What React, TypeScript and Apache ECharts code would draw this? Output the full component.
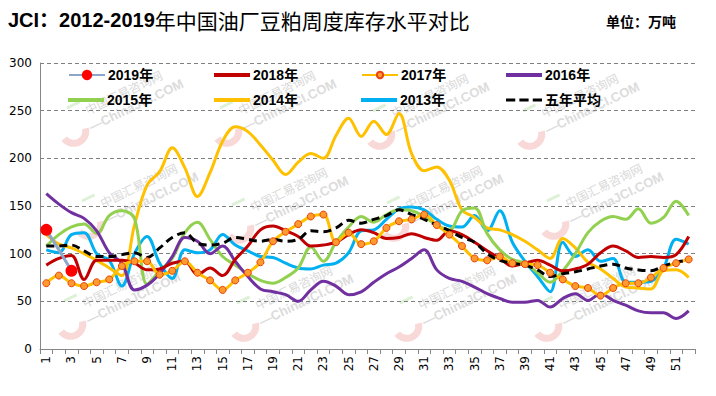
import React, { useEffect, useRef } from "react";
import * as echarts from "echarts";

const weeks = ["1","2","3","4","5","6","7","8","9","10","11","12","13","14","15","16","17","18","19","20","21","22","23","24","25","26","27","28","29","30","31","32","33","34","35","36","37","38","39","40","41","42","43","44","45","46","47","48","49","50","51","52"];

const y2019 = [125, 104, 82];
const y2018 = [88, 95, 98, 73, 93, 93, 93, 90, 83, 84, 90, 92, 78, 85, 77, 94, 108, 125, 129, 124, 118, 108, 109, 112, 120, 125, 122, 116, 117, 121, 117, 114, 124, 120, 112, 103, 95, 87, 90, 93, 88, 82, 84, 89, 101, 108, 103, 96, 97, 96, 99, 118];
const y2017 = [69, 77, 69, 66, 70, 73, 87, 92, 92, 78, 82, 92, 80, 72, 62, 72, 80, 91, 113, 123, 131, 139, 141, 112, 122, 110, 113, 127, 134, 136, 141, 130, 120, 108, 95, 93, 97, 90, 89, 88, 80, 73, 66, 64, 56, 64, 69, 69, 75, 85, 90, 94];
const y2016 = [163, 152, 143, 137, 124, 101, 90, 62, 67, 79, 97, 117, 113, 100, 108, 92, 76, 63, 60, 57, 50, 62, 71, 66, 57, 60, 70, 79, 86, 95, 104, 83, 74, 71, 65, 58, 53, 49, 49, 51, 44, 53, 58, 51, 58, 51, 46, 40, 38, 38, 32, 40];
const y2015 = [108, 120, 128, 131, 121, 140, 145, 137, 68, 82, 95, 122, 133, 115, 97, 88, 79, 72, 69, 75, 85, 107, 92, 112, 128, 139, 133, 141, 146, 145, 139, 130, 125, 145, 148, 121, 104, 94, 90, 80, 70, 82, 100, 122, 134, 139, 136, 147, 132, 138, 155, 140];
const y2014 = [120, 110, 106, 100, 93, 85, 77, 130, 172, 186, 211, 190, 160, 185, 218, 233, 228, 214, 198, 183, 196, 205, 200, 224, 242, 223, 239, 225, 247, 205, 187, 191, 177, 146, 138, 127, 125, 120, 113, 104, 95, 116, 106, 91, 84, 74, 65, 64, 63, 82, 83, 75];
const y2013 = [104, 101, 120, 122, 100, 93, 66, 100, 118, 90, 74, 104, 101, 104, 120, 109, 103, 97, 96, 90, 85, 84, 88, 90, 101, 124, 125, 136, 147, 149, 146, 136, 129, 128, 140, 124, 145, 112, 92, 76, 60, 112, 97, 104, 92, 95, 70, 70, 71, 85, 115, 110];
const yAvg = [108, 108, 109, 103, 97, 97, 99, 101, 96, 106, 117, 122, 111, 109, 111, 117, 115, 113, 115, 113, 115, 124, 123, 127, 135, 132, 136, 140, 146, 141, 136, 130, 124, 117, 112, 100, 93, 90, 88, 83, 76, 79, 81, 84, 87, 89, 85, 83, 82, 87, 91, 93];

const legendNames = ["2019年", "2018年", "2017年", "2016年", "2015年", "2014年", "2013年", "五年平均"];
const yMin = 0;
const yMax = 300;
const yStep = 50;

export default function App() {
  const ref = useRef<HTMLDivElement>(null);
  useEffect(() => {
    const chart = echarts.init(ref.current as HTMLDivElement, null, { renderer: "svg" });
    const cjk = '"Noto Sans CJK SC", sans-serif';
    const latin = '"Liberation Sans", "Noto Sans CJK SC", sans-serif';
    const axisFont = '"DejaVu Sans", sans-serif';

    const line = (name: string, data: any[], color: string, extra: any = {}) => ({
      name,
      type: "line",
      data,
      smooth: 0.35,
      symbol: "none",
      lineStyle: { color, width: 3 },
      itemStyle: { color },
      emphasis: { disabled: true },
      ...extra,
    });

    const series = [
      line("2013年", y2013, "#00B0F0"),
      line("2014年", y2014, "#FFC000"),
      line("2015年", y2015, "#92D050"),
      line("2016年", y2016, "#7030A0"),
      line("2018年", y2018, "#C00000"),
      line("2017年", y2017, "#FFC000", {
        symbol: "circle",
        symbolSize: 7,
        showSymbol: true,
        itemStyle: { color: "#FF9A2E", borderColor: "#E8430C", borderWidth: 1 },
      }),
      line("五年平均", yAvg, "#000000", {
        lineStyle: { color: "#000000", width: 3, type: [8, 5] },
      }),
      {
        name: "2019年",
        type: "line",
        data: y2019.map((v, i) => (i === 1 ? { value: v, symbol: "none" } : v)),
        smooth: false,
        symbol: "circle",
        symbolSize: 12,
        showSymbol: true,
        lineStyle: { color: "#8EA6CC", width: 3 },
        itemStyle: { color: "#FF0000" },
        emphasis: { disabled: true },
        z: 5,
      },
    ];

    const colX = [68, 214, 361, 506];
    const rowY = [75, 100];
    const legends = legendNames.map((n, i) => {
      const big = n === "2019年";
      const small = n === "2017年";
      const avg = n === "五年平均";
      const withMarker = big || small;
      const ih = big ? 13 : small ? 8 : 4;
      const base: any = {
        data: [n],
        left: colX[i % 4],
        top: rowY[Math.floor(i / 4)] - 8,
        itemWidth: 36,
        itemHeight: ih,
        itemGap: 0,
        padding: 0,
        textStyle: { fontSize: 14, lineHeight: 16, fontWeight: "bold", color: "#000", fontFamily: latin, padding: [0, 0, 0, -2] },
        selectedMode: false,
      };
      if (!withMarker) {
        base.icon = avg ? "path://M0 0H9V3H0Z M13 0H22V3H13Z M26 0H35V3H26Z" : "rect";
      }
      return base;
    });

    const wmSpots = [
      [80, 135], [233, 135], [386, 138], [536, 138],
      [95, 228], [245, 232], [400, 230], [560, 228],
      [77, 328], [250, 330], [413, 330], [553, 330],
    ];
    const watermarks = wmSpots.map(([x, y]) => ({
      type: "group",
      x,
      y,
      rotation: 0.45,
      z: 1,
      silent: true,
      children: [
        {
          type: "arc",
          shape: { cx: -4, cy: -6, r: 12, startAngle: 0.2, endAngle: Math.PI - 0.2 },
          style: { stroke: "#f9d8d8", lineWidth: 7, fill: null },
        },
        {
          type: "line",
          shape: { x1: 0, y1: -30, x2: 14, y2: -30 },
          style: { stroke: "#dcf1d6", lineWidth: 3 },
        },
        {
          type: "text",
          x: 16,
          y: -14,
          style: { text: "中国汇易咨询网", fontSize: 12, fill: "#d9d9d9", fontFamily: cjk, textVerticalAlign: "bottom" },
        },
        {
          type: "text",
          x: 12,
          y: 4,
          style: { text: "—ChinaJCI.COM", fontSize: 13, fontWeight: "bold", fill: "#dcdcdc", fontFamily: latin, textVerticalAlign: "bottom" },
        },
      ],
    }));

    chart.setOption({
      animation: false,
      backgroundColor: "#ffffff",
      title: [
        {
          text: "{a|JCI：2012-2019}{b|年中国油厂豆粕周度库存水平对比}",
          left: 8,
          top: 9,
          padding: 0,
          textStyle: {
            rich: {
              a: { fontSize: 20, fontWeight: "bold", color: "#000", fontFamily: latin },
              b: { fontSize: 21, fontWeight: "normal", color: "#000", fontFamily: cjk },
            },
          },
        },
        {
          text: "单位：万吨",
          left: 606,
          top: 14,
          padding: 0,
          textStyle: { fontSize: 14, fontWeight: "bold", color: "#000", fontFamily: cjk },
        },
      ],
      legend: legends,
      grid: { left: 40, right: 21, top: 63, bottom: 47, containLabel: false },
      xAxis: {
        type: "category",
        data: weeks,
        boundaryGap: true,
        axisLine: { show: true, lineStyle: { color: "#868686", width: 1 } },
        axisTick: { show: true, interval: 0, alignWithLabel: false, length: 5, lineStyle: { color: "#868686" } },
        axisLabel: { interval: 1, rotate: 90, fontSize: 12, color: "#000", fontFamily: axisFont, margin: 7 },
        splitLine: { show: false },
      },
      yAxis: {
        type: "value",
        min: yMin,
        max: yMax,
        interval: yStep,
        axisLine: { show: true, lineStyle: { color: "#868686", width: 1 } },
        axisTick: { show: false },
        axisLabel: { fontSize: 12, color: "#000", fontFamily: axisFont, margin: 8 },
        splitLine: { show: true, lineStyle: { color: "#7f7f7f", width: 1, type: [4, 3] } },
      },
      graphic: { elements: watermarks },
      series,
    });
    return () => chart.dispose();
  }, []);
  return (
    <div
      ref={ref}
      style={{ position: "absolute", left: 0, top: 0, width: 716, height: 396, background: "#fff" }}
    />
  );
}
